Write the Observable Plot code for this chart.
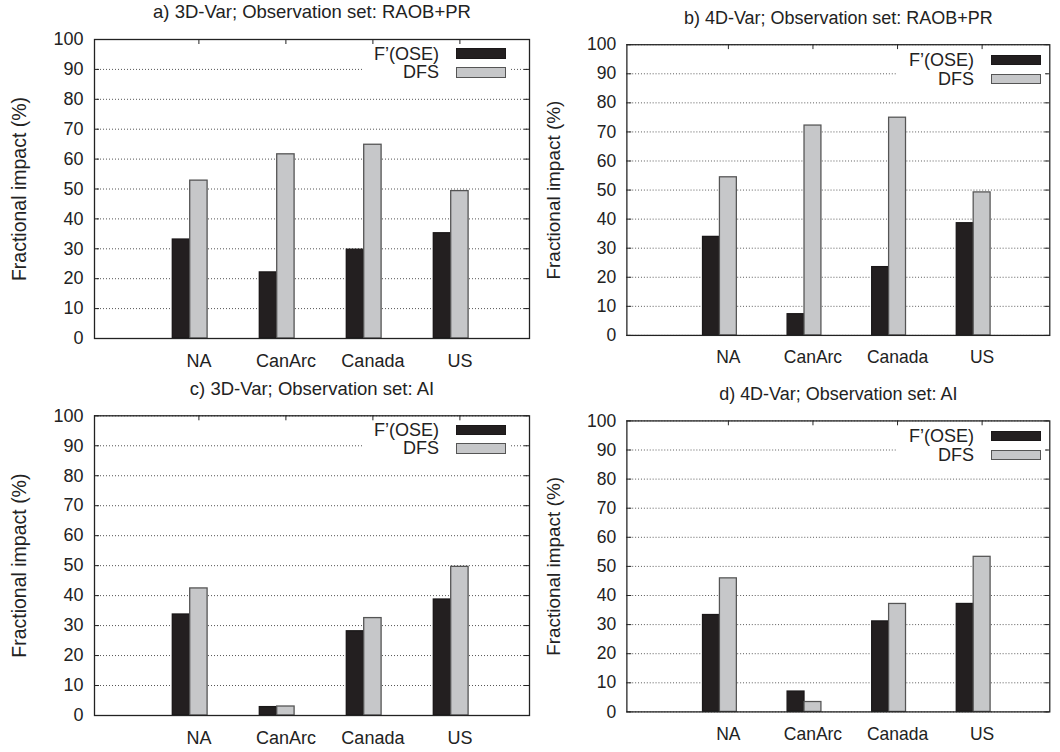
<!DOCTYPE html>
<html><head><meta charset="utf-8">
<script src="https://cdn.jsdelivr.net/npm/d3@7"></script>
<script src="https://cdn.jsdelivr.net/npm/@observablehq/plot@0.6"></script>
<style>
html,body{margin:0;padding:0;background:#fff;}
body{width:1060px;height:752px;overflow:hidden;position:relative;font-family:"Liberation Sans",Arial,Helvetica,sans-serif;color:#222;}
.panel{position:absolute;}
.legend{position:absolute;background:#fff;}
.lg-text{position:absolute;font-size:18px;line-height:18px;text-align:right;white-space:nowrap;}
.lg-sw{position:absolute;box-sizing:border-box;}
</style></head><body>
<script>
const categories = ["NA", "CanArc", "Canada", "US"];
const seriesNames = ["F’(OSE)", "DFS"];
const yLabel = "Fractional impact (%)";
const yTicks = [0, 10, 20, 30, 40, 50, 60, 70, 80, 90, 100];

const titleA = "a) 3D-Var; Observation set: RAOB+PR";
const titleB = "b) 4D-Var; Observation set: RAOB+PR";
const titleC = "c) 3D-Var; Observation set: AI";
const titleD = "d) 4D-Var; Observation set: AI";

const aF   = [33.1, 22.1, 29.7, 35.2];
const aDFS = [52.8, 61.6, 64.8, 49.3];
const bF   = [33.9, 7.3, 23.5, 38.6];
const bDFS = [54.4, 72.2, 74.9, 49.2];
const cF   = [33.7, 2.8, 28.1, 38.7];
const cDFS = [42.4, 3.0, 32.5, 49.6];
const dF   = [33.3, 7.0, 31.1, 37.1];
const dDFS = [45.9, 3.4, 37.1, 53.3];

const colors = {fill: ["#231f20", "#c6c7c9"], stroke: ["#1a1718", "#555555"]};
const FONT = '"Liberation Sans", Arial, Helvetica, sans-serif';

const panels = [
  {title: titleA, F: aF, D: aDFS, left: 0,   top: 0,   mt: 39,   mb: 38},
  {title: titleB, F: bF, D: bDFS, left: 535, top: 0,   mt: 45.5, mb: 31.5},
  {title: titleC, F: cF, D: cDFS, left: 0,   top: 376, mt: 39.3, mb: 37},
  {title: titleD, F: dF, D: dDFS, left: 535, top: 376, mt: 45.7, mb: 31}
];

const FW = 435, ML = 94, PW = 540, PH = 376;

function makePanel(cfg) {
  const rows = [];
  categories.forEach((c, i) => {
    rows.push({i, cat: c, s: 0, value: cfg.F[i]});
    rows.push({i, cat: c, s: 1, value: cfg.D[i]});
  });
  const off = [[-0.3, -0.1], [-0.1, 0.1]];
  const fh = PH - cfg.mt - cfg.mb;
  const idx = categories.map((c, i) => i);
  const svg = Plot.plot({
    width: PW, height: PH,
    marginLeft: ML, marginRight: PW - ML - FW, marginTop: cfg.mt, marginBottom: cfg.mb,
    style: {fontFamily: FONT, fontSize: "18px", color: "#222", background: "transparent", overflow: "visible"},
    x: {domain: [-1.2, 3.8], axis: null},
    y: {domain: [0, 100], axis: null},
    marks: [
      Plot.gridY(yTicks, {stroke: "#555", strokeOpacity: 1, strokeDasharray: "1,2", strokeWidth: 1}),
      Plot.rectY(rows, {
        x1: d => d.i + off[d.s][0], x2: d => d.i + off[d.s][1],
        y1: 0, y2: "value",
        fill: d => colors.fill[d.s], stroke: d => colors.stroke[d.s], strokeWidth: 1.3
      }),
      Plot.tickY(yTicks, {y: d => d, insetRight: FW - 5, stroke: "#222"}),
      Plot.tickY(yTicks, {y: d => d, insetLeft: FW - 5, stroke: "#222"}),
      Plot.tickX(idx, {x: d => d, insetBottom: fh - 5, stroke: "#222"}),
      Plot.frame({stroke: "#222", strokeWidth: 1.3}),
      Plot.axisY(yTicks, {tickSize: 0, tickPadding: 11, fontSize: 18, label: null}),
      Plot.axisX(idx, {tickSize: 0, tickPadding: 16, tickFormat: i => categories[i], fontSize: 18, label: null}),
      Plot.text([cfg.title], {text: d => d, frameAnchor: "top", dy: -27, textAnchor: "middle", lineAnchor: "middle", fontSize: 18.5}),
      Plot.text([yLabel], {text: d => d, frameAnchor: "left", dx: -75, rotate: -90, textAnchor: "middle", lineAnchor: "middle", fontSize: 19.5})
    ]
  });
  const wrap = document.createElement("div");
  wrap.className = "panel";
  wrap.style.left = cfg.left + "px";
  wrap.style.top = cfg.top + "px";
  wrap.appendChild(svg);
  document.body.appendChild(wrap);

  // legend (white box over the grid, like the original key)
  const L = cfg.left + ML, T = cfg.top + cfg.mt;
  const lg = document.createElement("div");
  lg.className = "legend";
  lg.style.left = (L + 268) + "px";
  lg.style.top = (T + 6) + "px";
  lg.style.width = "148px";
  lg.style.height = "36px";
  seriesNames.forEach((name, s) => {
    const t = document.createElement("div");
    t.className = "lg-text";
    t.textContent = name;
    t.style.right = (148 - 77) + "px";
    t.style.top = (s === 0 ? -0.5 : 18) + "px";
    lg.appendChild(t);
    const sw = document.createElement("div");
    sw.className = "lg-sw";
    sw.style.left = "94px";
    sw.style.width = "50px";
    sw.style.top = (s === 0 ? 3.3 : 22) + "px";
    sw.style.height = "10.5px";
    sw.style.background = colors.fill[s];
    sw.style.border = "1.3px solid " + colors.stroke[s];
    lg.appendChild(sw);
  });
  document.body.appendChild(lg);
}

panels.forEach(makePanel);
</script>
</body></html>
